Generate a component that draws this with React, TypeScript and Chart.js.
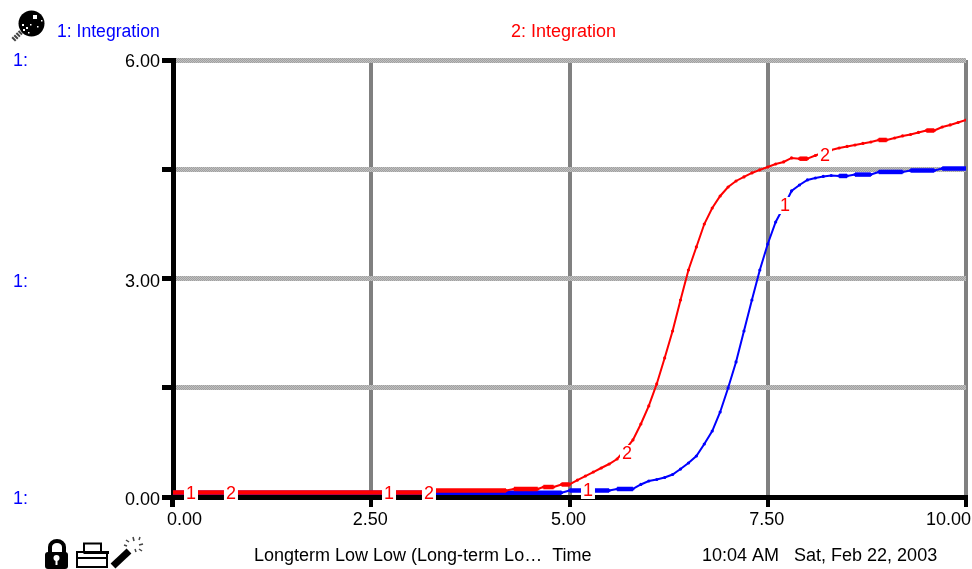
import React, { useEffect, useRef } from "react";
import { Chart, registerables } from "chart.js";

Chart.register(...registerables);

const FONT = '"Liberation Sans", Arial, sans-serif';
const FONT_SIZE = 18;

const seriesNames = ["1: Integration", "2: Integration"];
const timesRed = [0, 3.3, 3.3, 4.2, 4.3, 4.6, 4.67, 4.8, 4.9, 5.0, 5.1, 5.2, 5.3, 5.4, 5.5, 5.6, 5.7, 5.8, 5.9, 6.0, 6.1, 6.2, 6.3, 6.4, 6.5, 6.6, 6.7, 6.8, 6.9, 7.0, 7.1, 7.2, 7.3, 7.4, 7.5, 7.6, 7.7, 7.8, 7.9, 8.0, 8.1, 8.2, 8.3, 8.4, 8.5, 8.6, 8.7, 8.8, 8.9, 9.0, 9.1, 9.2, 9.3, 9.4, 9.5, 9.6, 9.7, 9.8, 9.9, 10];
const valuesRed = [0.062, 0.062, 0.089, 0.089, 0.11, 0.11, 0.137, 0.137, 0.172, 0.172, 0.233, 0.288, 0.343, 0.398, 0.453, 0.522, 0.645, 0.783, 1.002, 1.25, 1.552, 1.909, 2.279, 2.705, 3.117, 3.433, 3.748, 3.968, 4.133, 4.256, 4.339, 4.394, 4.449, 4.491, 4.531, 4.572, 4.6, 4.655, 4.645, 4.645, 4.689, 4.73, 4.764, 4.792, 4.813, 4.833, 4.854, 4.874, 4.902, 4.902, 4.929, 4.957, 4.977, 5.005, 5.032, 5.032, 5.08, 5.108, 5.142, 5.176];
const timesBlue = [0, 4.9, 5.0, 5.5, 5.6, 5.8, 5.9, 6.0, 6.1, 6.2, 6.3, 6.4, 6.5, 6.6, 6.7, 6.8, 6.9, 7.0, 7.1, 7.2, 7.3, 7.4, 7.5, 7.6, 7.7, 7.8, 7.9, 8.0, 8.1, 8.2, 8.3, 8.4, 8.5, 8.6, 8.8, 8.9, 9.2, 9.3, 9.6, 9.7, 10];
const valuesBlue = [0.059, 0.059, 0.089, 0.089, 0.11, 0.11, 0.172, 0.22, 0.24, 0.268, 0.309, 0.384, 0.467, 0.563, 0.728, 0.906, 1.167, 1.497, 1.854, 2.279, 2.705, 3.117, 3.474, 3.776, 3.982, 4.202, 4.284, 4.353, 4.38, 4.401, 4.414, 4.408, 4.408, 4.427, 4.427, 4.463, 4.463, 4.483, 4.483, 4.51, 4.51];

const yTickLabels: Record<number, string> = { 0: "0.00", 3: "3.00", 6: "6.00" };
const yLabelShift: Record<number, number> = { 0: 2, 3: 3, 6: 1 };
const curveTags: [string, number, number][] = [
  ["1", 0.227, 0.055], ["2", 0.731, 0.055],
  ["1", 2.724, 0.055], ["2", 3.228, 0.055],
  ["1", 5.233, 0.096], ["2", 5.725, 0.604],
  ["1", 7.717, 4.009], ["2", 8.222, 4.696],
];
const footerLeft = "Longterm Low Low (Long-term Lo\u2026  Time";
const footerRight = "10:04 AM   Sat, Feb 22, 2003";

const decorPlugin = {
  id: "decor",
  afterDraw(chart: any) {
    const { ctx, scales } = chart;
    const x = scales.x;
    const y = scales.y;
    ctx.save();
    ctx.font = `${FONT_SIZE}px ${FONT}`;
    ctx.textBaseline = "middle";

    // left axis stub below the plot
    ctx.fillStyle = "#000";
    ctx.fillRect(170, 497, 5, 10);

    // x tick labels
    x.ticks.forEach((t: any, i: number) => {
      const px = x.getPixelForTick(i);
      if (i === 0) {
        ctx.textAlign = "left";
        ctx.fillText(t.label, px - 6, 520);
      } else if (i === x.ticks.length - 1) {
        ctx.textAlign = "right";
        ctx.fillText(t.label, px + 5, 520);
      } else {
        ctx.textAlign = "center";
        ctx.fillText(t.label, px - 1, 520);
      }
    });

    // y tick labels
    ctx.textAlign = "right";
    y.ticks.forEach((t: any, i: number) => {
      if (t.label) ctx.fillText(t.label, 160, y.getPixelForTick(i) + 1 + (yLabelShift[t.value] ?? 0));
    });

    // curve number tags
    ctx.textAlign = "center";
    curveTags.forEach(([s, t, v]) => {
      const px = x.getPixelForValue(t);
      const py = y.getPixelForValue(v);
      ctx.fillStyle = "#fff";
      ctx.fillRect(px - 7, py - 8, 14, 17);
      ctx.fillStyle = "#ff0000";
      ctx.fillText(s, px, py + 1);
    });

    // header and side texts
    ctx.textAlign = "left";
    ctx.fillStyle = "#0000ff";
    ctx.font = `17.6px ${FONT}`;
    ctx.fillText(seriesNames[0], 57, 32);
    ctx.font = `${FONT_SIZE}px ${FONT}`;
    ctx.fillText("1:", 13, 61);
    ctx.fillText("1:", 13, 282);
    ctx.fillText("1:", 13, 499);
    ctx.fillStyle = "#ff0000";
    ctx.fillText(seriesNames[1], 511, 32);

    // footer
    ctx.fillStyle = "#000";
    ctx.fillText(footerLeft, 254, 556);
    ctx.fillText(footerRight, 702, 556);
    ctx.restore();
  },
};

const flatWidth = (c: any) => (c.p0.parsed.y === c.p1.parsed.y ? 4.5 : 2);

function Icons() {
  const speck = [[33, 15, 4], [37, 26, 1.5], [22, 24, 2], [26, 27, 2], [23, 29, 2], [28, 32, 1.5], [41, 20, 1.5], [30, 24, 1.5]];
  return (
    <svg width={972} height={569} style={{ position: "absolute", left: 0, top: 0, pointerEvents: "none" }}>
      <circle cx={31.5} cy={23.5} r={13} fill="#000" />
      {speck.map(([a, b, s], i) => (
        <rect key={i} x={a} y={b} width={s} height={s} fill="#fff" />
      ))}
      <line x1={21} y1={32} x2={13} y2={40} stroke="#444" strokeWidth={5} strokeDasharray="2 1" />
      <path d="M50 553 V547 a7 6 0 0 1 14 0 V553" fill="none" stroke="#000" strokeWidth={4} />
      <rect x={45} y={552} width={23} height={17} rx={3} fill="#000" />
      <circle cx={56.5} cy={558} r={3} fill="#fff" />
      <rect x={55.5} y={559} width={2} height={6} fill="#fff" />
      <rect x={84} y={543.5} width={17} height={9} fill="none" stroke="#000" strokeWidth={2} />
      <rect x={77} y={552} width={30} height={15} fill="none" stroke="#000" strokeWidth={2} />
      <line x1={77} y1={558} x2={107} y2={558} stroke="#000" strokeWidth={2} />
      <rect x={84} y={551} width={25} height={3} fill="#000" />
      <line x1={113} y1={566} x2={129} y2={551} stroke="#000" strokeWidth={7} />
      {[[133, 537, 134, 541], [140, 537, 139, 540], [143, 544, 139, 545], [142, 551, 139, 549], [126, 540, 129, 542], [135, 549, 136, 552], [124, 545, 127, 546]].map(([a, b, c, d], i) => (
        <line key={i} x1={a} y1={b} x2={c} y2={d} stroke="#444" strokeWidth={1.5} />
      ))}
    </svg>
  );
}

function ditherPattern(ctx: CanvasRenderingContext2D) {
  const c = document.createElement("canvas");
  c.width = 2;
  c.height = 2;
  const p = c.getContext("2d")!;
  p.fillStyle = "#c0c0c0";
  p.fillRect(0, 0, 2, 2);
  p.fillStyle = "#a0a0a0";
  p.fillRect(0, 0, 1, 1);
  p.fillRect(1, 1, 1, 1);
  return ctx.createPattern(c, "repeat");
}

export default function App() {
  const ref = useRef<HTMLCanvasElement>(null);
  useEffect(() => {
    if (!ref.current) return;
    const dither = ditherPattern(ref.current.getContext("2d")!);
    const chart = new Chart(ref.current, {
      type: "line",
      data: {
        datasets: [
          {
            label: seriesNames[0],
            data: timesBlue.map((t, i) => ({ x: t, y: valuesBlue[i] })),
            borderColor: "#0000ff",
            backgroundColor: "#0000ff",
            borderWidth: 2,
            tension: 0,
            pointRadius: 1.6,
            pointBorderWidth: 0,
            segment: { borderWidth: flatWidth },
            order: 2,
          },
          {
            label: seriesNames[1],
            data: timesRed.map((t, i) => ({ x: t, y: valuesRed[i] })),
            borderColor: "#ff0000",
            backgroundColor: "#ff0000",
            borderWidth: 2,
            tension: 0,
            pointRadius: 1.6,
            pointBorderWidth: 0,
            segment: { borderWidth: flatWidth },
            order: 1,
          },
        ],
      } as any,
      options: {
        responsive: false,
        animation: false,
        layout: { padding: { top: 60, right: 6, left: 0, bottom: 0 } },
        plugins: { legend: { display: false }, tooltip: { enabled: false } },
        scales: {
          x: {
            type: "linear",
            min: 0,
            max: 10,
            afterFit: (s: any) => { s.height = 72; },
            ticks: { stepSize: 2.5, display: false, callback: (v: any) => Number(v).toFixed(2) },
            grid: { color: "#808080", lineWidth: 4, tickColor: "#000", tickWidth: 4, tickLength: 10 },
            border: { color: "#000", width: 5 },
          },
          y: {
            type: "linear",
            min: 0,
            max: 6,
            afterFit: (s: any) => { s.width = 173; },
            ticks: {
              stepSize: 1.5,
              autoSkip: false,
              display: false,
              callback: (v: any) => yTickLabels[v] ?? "",
            },
            grid: { color: dither, lineWidth: 5, tickColor: "#000", tickWidth: 5, tickLength: 11 },
            border: { color: "#000", width: 5 },
          },
        },
      },
      plugins: [decorPlugin],
    } as any);
    return () => chart.destroy();
  }, []);
  return (
    <div style={{ position: "absolute", left: 0, top: 0, width: 972, height: 569, background: "#fff" }}>
      <canvas ref={ref} width={972} height={569} style={{ position: "absolute", left: 0, top: 0, display: "block" }} />
      <Icons />
    </div>
  );
}
